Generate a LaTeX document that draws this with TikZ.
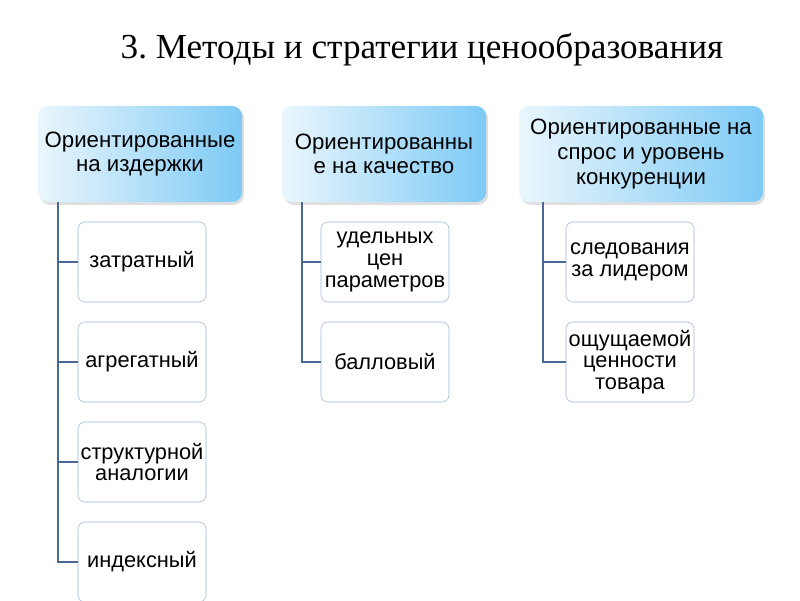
\documentclass[tikz,border=0pt]{standalone}
\usepackage{fontspec}
\setmainfont{Liberation Serif}
\setsansfont{Liberation Sans}
\usepackage{xcolor}
\usetikzlibrary{shadows}
\definecolor{hdrlight}{HTML}{EAF6FD}
\definecolor{hdrdark}{HTML}{7DCAF5}
\definecolor{itemline}{HTML}{9DB9DC}
\definecolor{linkcol}{HTML}{4A6894}
\tikzset{
  hdr/.style={rounded corners=7pt, shading=axis, left color=hdrlight, right color=hdrdark,
    minimum width=5.1cm, minimum height=2.4cm, align=center, inner sep=1pt,
    font=\sffamily\fontsize{15.8}{17.5}\selectfont,
    drop shadow={shadow xshift=1.5pt, shadow yshift=-2pt, opacity=0.25}},
  itembox/.style={draw=itemline, rounded corners=5pt, fill=white, minimum width=3.2cm,
    minimum height=2cm, align=center, inner sep=1pt, font=\sffamily\fontsize{15.5}{15.5}\selectfont},
  link/.style={draw=linkcol, line width=1.4pt}
}
\begin{document}
\begin{tikzpicture}[x=0.025cm, y=-0.025cm]
        \useasboundingbox (0,0) rectangle (800,600);
        % Title
        \node (title) at (422,50) {\fontsize{25}{28}\selectfont\frenchspacing 3. Методы и стратегии ценообразования};
        % Headers
        \node[hdr] (cost) at (140,154) {Ориентированные\\на издержки};
        \node[hdr] (qual) at (384,154) {Ориентированны\\е на качество};
        \node[hdr, minimum width=6.1cm] (dem) at (641,154) {Ориентированные на\\спрос и уровень\\конкуренции};
        % Column 1
        \coordinate (c1) at (58,202);
        \node[itembox] (a1) at (142,262) {затратный};
        \node[itembox] (a2) at (142,362) {агрегатный};
        \node[itembox] (a3) at (142,462) {структурной\\аналогии};
        \node[itembox] (a4) at (142,562) {индексный};
        \draw[link] (c1) |- (a4.west);
        \foreach \n in {a1,a2,a3}
          \draw[link] (c1 |- \n.west) -- (\n.west);
        % Column 2
        \coordinate (c2) at (302,202);
        \node[itembox] (b1) at (385,262) {удельных\\цен\\параметров};
        \node[itembox] (b2) at (385,362) {балловый};
        \draw[link] (c2) |- (b2.west);
        \draw[link] (c2 |- b1.west) -- (b1.west);
        % Column 3
        \coordinate (c3) at (543,202);
        \node[itembox] (d1) at (630,262) {следования\\за лидером};
        \node[itembox] (d2) at (630,362) {ощущаемой\\ценности\\товара};
        \draw[link] (c3) |- (d2.west);
        \draw[link] (c3 |- d1.west) -- (d1.west);
    \end{tikzpicture}
\end{document}
